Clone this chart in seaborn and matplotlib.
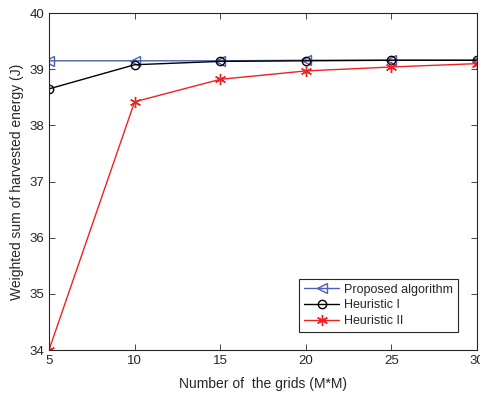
import numpy as np
import pandas as pd
import matplotlib
matplotlib.use("Agg")
import matplotlib.pyplot as plt
import seaborn as sns

grids = [5, 10, 15, 20, 25, 30]
proposed = [39.15, 39.15, 39.15, 39.16, 39.16, 39.16]
heuristic1 = [38.65, 39.08, 39.14, 39.15, 39.16, 39.16]
heuristic2 = [34.0, 38.42, 38.82, 38.97, 39.04, 39.1]

sns.set_style("white")
plt.rcParams['font.family'] = ['Liberation Sans', 'DejaVu Sans']

fig = plt.figure(figsize=(4.8, 3.96), dpi=100)
ax = fig.add_axes([0.102, 0.116, 0.892, 0.851])

sns.lineplot(x=grids, y=proposed, ax=ax, color='#4a5fb5', marker='<', markersize=7,
             markerfacecolor='none', markeredgecolor='#4a5fb5', markeredgewidth=1,
             linewidth=1, label='Proposed algorithm')
sns.lineplot(x=grids, y=heuristic1, ax=ax, color='black', marker='o', markersize=6,
             markerfacecolor='none', markeredgecolor='black', markeredgewidth=1,
             linewidth=1, label='Heuristic I')
sns.lineplot(x=grids, y=heuristic2, ax=ax, color='#ee2222', marker=(6, 2, 0), markersize=8,
             markeredgecolor='#ee2222', markeredgewidth=1,
             linewidth=1, label='Heuristic II')

ax.set_xlim(5, 30)
ax.set_ylim(34, 40)
ax.set_xticks([5, 10, 15, 20, 25, 30])
ax.set_yticks([34, 35, 36, 37, 38, 39, 40])
ax.set_xlabel('Number of  the grids (M*M)', fontsize=10, labelpad=7)
ax.set_ylabel('Weighted sum of harvested energy (J)', fontsize=10)
ax.tick_params(direction='in', top=True, right=True, length=4, width=0.6, labelsize=9.5,
               colors='#262626', bottom=True, left=True)
for s in ax.spines.values():
    s.set_visible(True)
    s.set_color('#262626')
    s.set_linewidth(0.8)

leg = ax.legend(loc='lower right', bbox_to_anchor=(0.956, 0.053), borderaxespad=0,
                fontsize=9, frameon=True, fancybox=False, edgecolor='#262626',
                framealpha=1, handlelength=2.8, borderpad=0.4, labelspacing=0.3,
                handletextpad=0.4)
leg.get_frame().set_linewidth(0.8)

fig.savefig('out.png', dpi=100)
